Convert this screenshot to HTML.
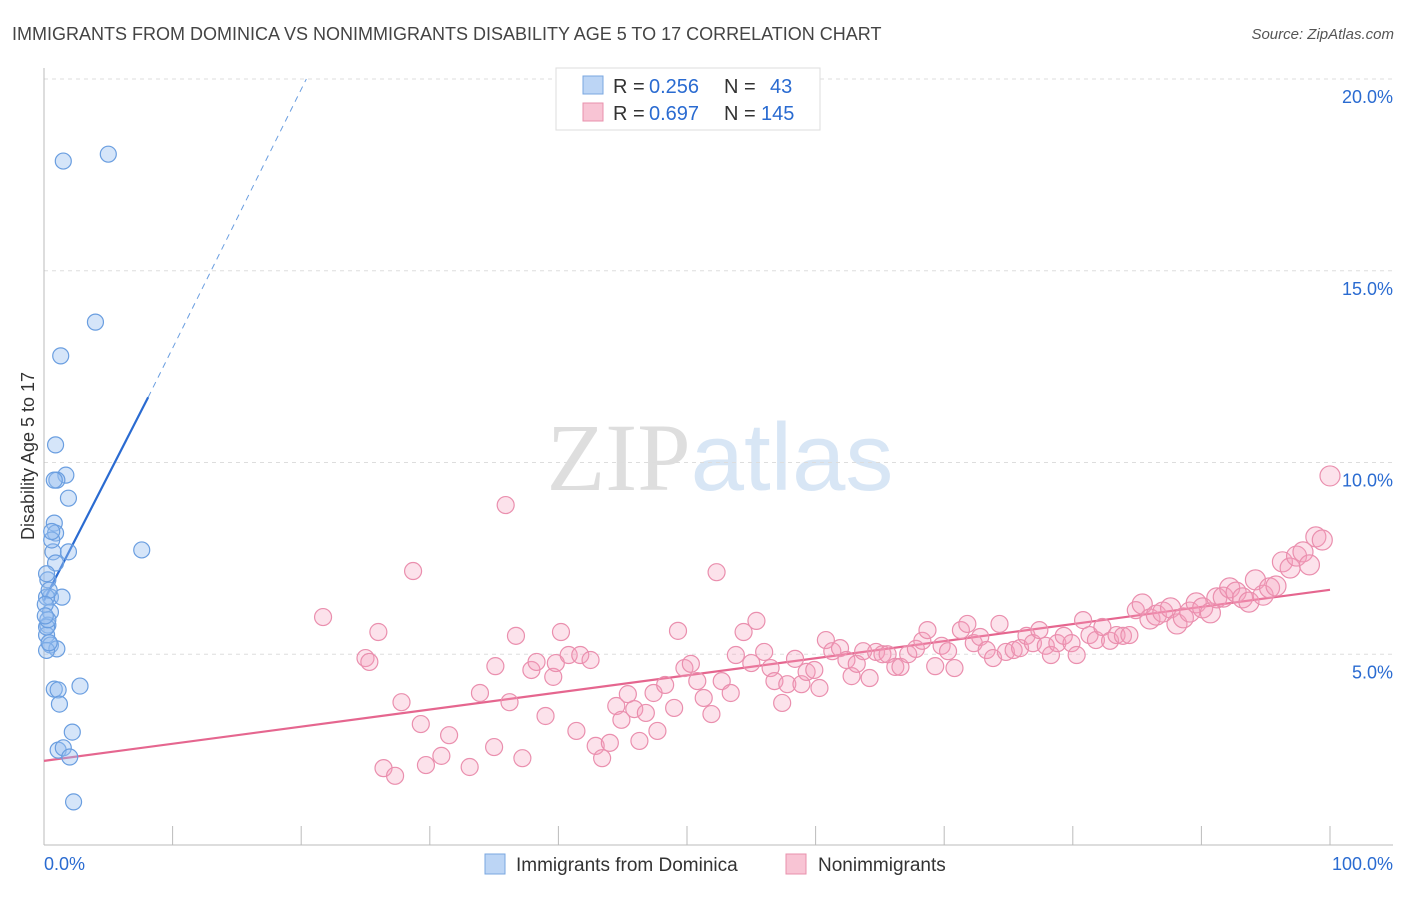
<!DOCTYPE html>
<html><head><meta charset="utf-8"><style>
body{margin:0;background:#fff;font-family:"Liberation Sans",sans-serif}
svg text{font-family:"Liberation Sans",sans-serif}
</style></head><body>
<svg id="chart" width="1406" height="892" xmlns="http://www.w3.org/2000/svg">
<text x="12" y="40" font-size="18" fill="#444">IMMIGRANTS FROM DOMINICA VS NONIMMIGRANTS DISABILITY AGE 5 TO 17 CORRELATION CHART</text>
<text x="1394" y="39" font-size="15" fill="#555" text-anchor="end" font-style="italic">Source: ZipAtlas.com</text>
<text x="720" y="490" font-size="96" text-anchor="middle" fill="#ddd" opacity="0.8"><tspan font-family="Liberation Serif" fill="#d6d6d6">ZIP</tspan><tspan fill="#cfe0f3">atlas</tspan></text>
<text transform="translate(34,456) rotate(-90)" font-size="18" fill="#333" text-anchor="middle">Disability Age 5 to 17</text>
<g id="grid"></g><g id="axes"></g><g id="trend"></g><g id="pts"></g>
<g>
<rect x="556" y="68" width="264" height="62" fill="#fff" stroke="#ddd"/>
<rect x="583" y="76" width="20" height="18" fill="#bcd5f5" stroke="#7aa7e0"/>
<text x="613" y="93" font-size="20" fill="#333">R =</text>
<text x="649" y="93" font-size="20" fill="#2a6bd1">0.256</text>
<text x="724" y="93" font-size="20" fill="#333">N =</text>
<text x="770" y="93" font-size="20" fill="#2a6bd1">43</text>
<rect x="583" y="103" width="20" height="18" fill="#f8c4d4" stroke="#e891ac"/>
<text x="613" y="120" font-size="20" fill="#333">R =</text>
<text x="649" y="120" font-size="20" fill="#2a6bd1">0.697</text>
<text x="724" y="120" font-size="20" fill="#333">N =</text>
<text x="761" y="120" font-size="20" fill="#2a6bd1">145</text>
</g>
<g>
<rect x="485" y="854" width="20" height="20" fill="#bcd5f5" stroke="#7aa7e0"/>
<text x="516" y="871" font-size="19" fill="#333">Immigrants from Dominica</text>
<rect x="786" y="854" width="20" height="20" fill="#f8c4d4" stroke="#e891ac"/>
<text x="818" y="871" font-size="19" fill="#333">Nonimmigrants</text>
</g>
</svg>
<script>
const yTicks=[5,10,15,20];
const yTickLabels=["5.0%","10.0%","15.0%","20.0%"];
const xTickLabels=["0.0%","100.0%"];
const blueX=[1.5,5.0,4.0,1.3,0.9,1.7,1.0,0.8,1.9,0.8,0.9,1.9,0.7,7.6,0.9,0.3,0.5,1.4,0.2,0.5,0.3,0.2,0.5,1.0,0.8,1.1,2.8,1.2,2.2,1.1,1.5,2.0,2.3,0.2,0.2,0.6,0.4,0.1,0.3,0.6,0.2,0.4,0.1];
const blueY=[17.86,18.04,13.66,12.78,10.46,9.67,9.54,9.54,9.07,8.42,8.16,7.67,7.67,7.72,7.38,6.94,6.49,6.49,6.49,6.1,5.76,5.5,5.24,5.14,4.09,4.07,4.17,3.7,2.97,2.5,2.56,2.32,1.15,5.71,5.1,7.98,6.67,6.3,5.9,8.2,7.1,5.3,6.0];
const pinkX=[21.7,26.0,25.0,25.3,27.8,28.7,26.4,27.3,29.3,29.7,30.9,31.5,33.1,33.9,35.1,35.9,36.2,35.0,36.7,37.2,37.9,38.3,39.0,39.6,39.8,40.2,40.8,41.4,41.7,42.5,42.9,43.4,44.0,44.5,44.9,45.4,45.9,46.3,46.8,47.4,47.7,48.3,49.0,49.3,49.8,50.3,50.8,51.3,51.9,52.3,52.7,53.4,53.8,54.4,55.0,55.4,56.0,56.5,56.8,57.4,57.8,58.4,58.9,59.3,59.9,60.3,60.8,61.3,61.9,62.4,62.8,63.2,63.7,64.2,64.7,65.2,65.6,66.2,66.6,67.2,67.8,68.3,68.7,69.3,69.8,70.3,70.8,71.3,71.8,72.3,72.8,73.3,73.8,74.3,74.8,75.4,75.9,76.4,76.9,77.4,77.9,78.3,78.8,79.3,79.9,80.3,80.8,81.3,81.8,82.3,82.9,83.4,83.9,84.4,84.9,85.4,86.0,86.5,87.0,87.6,88.1,88.6,89.1,89.6,90.1,90.7,91.2,91.7,92.2,92.7,93.2,93.7,94.2,94.8,95.3,95.8,96.3,96.9,97.4,97.9,98.4,98.9,99.4,100];
const pinkY=[5.97,5.58,4.9,4.8,3.75,7.17,2.03,1.83,3.18,2.11,2.35,2.89,2.06,3.99,4.69,8.89,3.75,2.58,5.48,2.29,4.59,4.8,3.39,4.41,4.77,5.58,4.98,3.0,4.98,4.85,2.61,2.29,2.69,3.65,3.29,3.96,3.57,2.74,3.47,3.99,3.0,4.2,3.6,5.61,4.64,4.75,4.3,3.86,3.44,7.14,4.3,3.99,4.98,5.58,4.77,5.87,5.06,4.64,4.3,3.73,4.22,4.88,4.22,4.54,4.59,4.12,5.37,5.08,5.16,4.85,4.43,4.75,5.08,4.38,5.06,5.0,5.0,4.67,4.67,5.0,5.14,5.35,5.63,4.69,5.22,5.08,4.64,5.63,5.79,5.29,5.45,5.11,4.9,5.79,5.06,5.11,5.16,5.48,5.29,5.63,5.22,4.98,5.29,5.48,5.29,4.98,5.89,5.5,5.37,5.71,5.35,5.5,5.48,5.5,6.15,6.31,5.92,6.02,6.1,6.21,5.79,5.95,6.1,6.34,6.21,6.08,6.47,6.49,6.73,6.62,6.47,6.36,6.94,6.54,6.73,6.78,7.41,7.25,7.56,7.67,7.33,8.06,7.98,9.65];
const blueTrend=[[0,6.4],[8.1,11.7]];
const blueDash=[[8.1,11.7],[20.4,20.0]];
const pinkTrend=[[0,2.22],[100,6.68]];
const X=v=>44+v*12.86, Y=v=>846-v*38.35;
const NS="http://www.w3.org/2000/svg";
function mk(p,t,a){const e=document.createElementNS(NS,t);for(const k in a)e.setAttribute(k,a[k]);p.appendChild(e);return e;}
const grid=document.getElementById('grid'),axes=document.getElementById('axes'),tr=document.getElementById('trend'),pts=document.getElementById('pts');
yTicks.forEach((t,i)=>{
 const l=mk(grid,'line',{x1:44,x2:1393,y1:Y(t),y2:Y(t),stroke:'#ddd','stroke-dasharray':'4,4'});
 
 
 const tx=mk(grid,'text',{x:1393,y:Y(t)+24,'font-size':18,fill:'#2a6bd1','text-anchor':'end'});
 tx.textContent=yTickLabels[i];
 
 
});
const ax=mk(axes,'line',{x1:44,x2:1393,y1:845,y2:845,stroke:'#bbb'});


const ay=mk(axes,'line',{x1:44,x2:44,y1:68,y2:845,stroke:'#bbb'});


for(let i=0;i<=10;i++){const t=mk(axes,'line',{x1:X(i*10),x2:X(i*10),y1:826,y2:845,stroke:'#bbb'});
 
 }
[[0,'start',44],[100,'end',1393]].forEach((d,i)=>{const t=mk(axes,'text',{x:d[2],y:870,'font-size':18,fill:'#2a6bd1','text-anchor':d[1]});t.textContent=xTickLabels[i];
 
 });
pinkX.forEach((v,i)=>{const c=mk(pts,'circle',{cx:X(v),cy:Y(pinkY[i]),r:v>85?10:8.5,fill:'rgba(244,160,188,0.3)',stroke:'#ea8fae','stroke-width':1.2});
 
 });
blueX.forEach((v,i)=>{const c=mk(pts,'circle',{cx:X(v),cy:Y(blueY[i]),r:8,fill:'rgba(150,190,240,0.4)',stroke:'#6a9ee0','stroke-width':1.2});
 
 });
const l1=mk(tr,'line',{x1:X(blueTrend[0][0]),y1:Y(blueTrend[0][1]),x2:X(blueTrend[1][0]),y2:Y(blueTrend[1][1]),stroke:'#2a6bd1','stroke-width':2.2});


const l2=mk(tr,'line',{x1:X(blueDash[0][0]),y1:Y(blueDash[0][1]),x2:X(blueDash[1][0]),y2:Y(blueDash[1][1]),stroke:'#6a9ee0','stroke-width':1,'stroke-dasharray':'6,5'});


const l3=mk(tr,'line',{x1:X(pinkTrend[0][0]),y1:Y(pinkTrend[0][1]),x2:X(pinkTrend[1][0]),y2:Y(pinkTrend[1][1]),stroke:'#e5668f','stroke-width':2.2});


</script>
</body></html>
